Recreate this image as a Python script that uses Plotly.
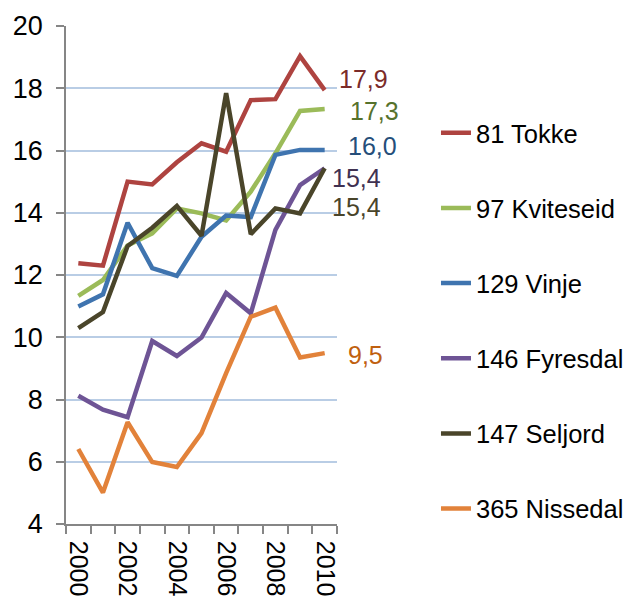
import plotly.graph_objects as go

years = [2000, 2001, 2002, 2003, 2004, 2005, 2006, 2007, 2008, 2009, 2010]

tokke = [12.38, 12.30, 15.00, 14.91, 15.62, 16.23, 15.96, 17.62, 17.65, 19.03, 17.94]
kviteseid = [11.33, 11.84, 12.95, 13.34, 14.14, 13.98, 13.75, 14.68, 15.91, 17.27, 17.33]
vinje = [10.99, 11.38, 13.68, 12.22, 11.97, 13.23, 13.91, 13.86, 15.86, 16.02, 16.02]
fyresdal = [8.12, 7.67, 7.43, 9.88, 9.40, 9.99, 11.42, 10.77, 13.45, 14.89, 15.43]
seljord = [10.29, 10.81, 12.93, 13.52, 14.22, 13.26, 17.84, 13.31, 14.14, 13.98, 15.43]
nissedal = [6.41, 5.01, 7.27, 5.99, 5.83, 6.92, 8.85, 10.66, 10.95, 9.35, 9.49]

names = ["81 Tokke", "97 Kviteseid", "129 Vinje", "146 Fyresdal", "147 Seljord", "365 Nissedal"]
series = [tokke, kviteseid, vinje, fyresdal, seljord, nissedal]
line_colors = ["#AE4340", "#9BBB59", "#3F74AF", "#6E5495", "#4A452A", "#E2823A"]
label_colors = ["#7B2B29", "#56722C", "#254E7A", "#3F3151", "#49442A", "#C0600F"]
# pixel offsets of end labels (style only)
label_shift = [(12, 11), (23, -2), (21, 4), (5, -10), (5, -39), (21, -2)]

y_ticks = [4, 6, 8, 10, 12, 14, 16, 18, 20]
x_ticks = [2000, 2002, 2004, 2006, 2008, 2010]

FONT = "Liberation Sans, Arial, sans-serif"
GRAY = "#868686"

fig = go.Figure()
for i, (nm, vals, col) in enumerate(zip(names, series, line_colors)):
    fig.add_trace(go.Scatter(
        x=years, y=vals, name=nm, mode="lines",
        line=dict(color=col, width=4.5),
        legendgroup=str(i),
    ))

annotations = []
for vals, col, (dx, dy) in zip(series, label_colors, label_shift):
    annotations.append(dict(
        x=years[-1], y=vals[-1], xref="x", yref="y",
        text=f"{vals[-1]:.1f}".replace(".", ","),
        showarrow=False, xanchor="left", yanchor="middle",
        xshift=dx, yshift=dy,
        font=dict(family=FONT, size=25, color=col),
    ))

# page body adds an 8px offset; figure is sized to fill the rest of the window
fig.update_layout(
    width=628, height=590,
    margin=dict(l=58, r=299, t=18, b=74),
    paper_bgcolor="white", plot_bgcolor="white",
    font=dict(family=FONT, size=26, color="black"),
    showlegend=True,
    legend=dict(
        xref="container", yref="container",
        x=0.6815, xanchor="left", y=0.8276, yanchor="top",
        font=dict(family=FONT, size=25.5, color="black"),
        tracegroupgap=39, maxheight=560,
        bgcolor="rgba(0,0,0,0)",
    ),
    annotations=annotations,
    xaxis=dict(
        range=[1999.5, 2010.5], automargin=False,
        tickmode="array", tickvals=x_ticks, ticktext=[str(t) for t in x_ticks],
        tickangle=90, ticks="", showgrid=False, zeroline=False,
        showline=True, linecolor=GRAY, linewidth=1.5,
        ticklabelstandoff=10,
        tickfont=dict(family=FONT, size=25, color="black"),
        minor=dict(tick0=1999.5, dtick=1, ticks="outside", ticklen=8,
                   tickcolor=GRAY, tickwidth=1.5, showgrid=False),
    ),
    yaxis=dict(
        range=[4, 20], tickmode="array", tickvals=y_ticks, automargin=False,
        showgrid=True, gridcolor="#B9CDE5", gridwidth=1.5,
        zeroline=False, showline=True, linecolor=GRAY, linewidth=1.5,
        ticks="outside", ticklen=8, tickcolor=GRAY, tickwidth=1.5,
        ticklabelstandoff=8,
        tickfont=dict(family=FONT, size=27, color="black"),
    ),
)

fig.write_html("out.html")
